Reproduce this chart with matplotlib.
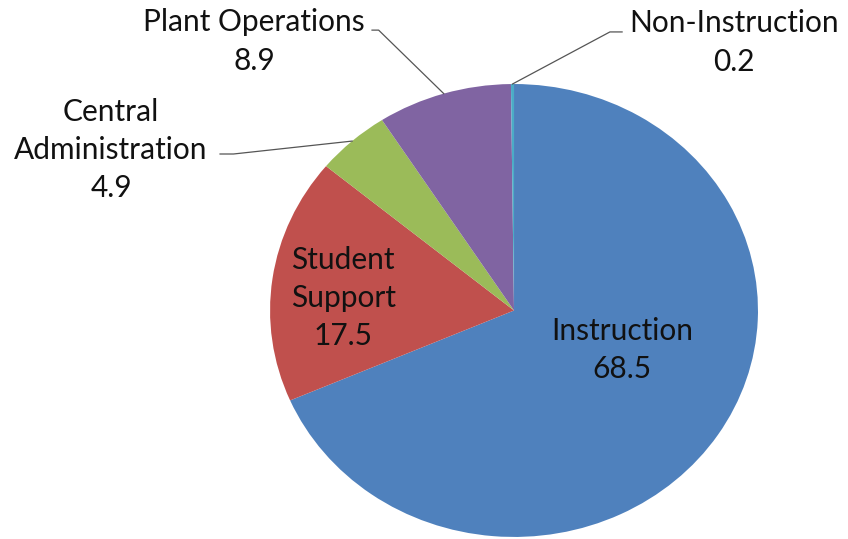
import numpy as np
import matplotlib.pyplot as plt

plt.rcParams['font.family'] = ['Lato', 'DejaVu Sans']

# Spending share by function (percent)
categories = ['Instruction', 'Student\nSupport', 'Central\nAdministration',
              'Plant Operations', 'Non-Instruction']
values = [68.5, 17.5, 4.9, 8.9, 0.2]
colors = ['#4F81BD', '#C0504D', '#9BBB59', '#8064A2', '#4BACC6']

fig = plt.figure(figsize=(8.48, 5.39), dpi=100)
ax = fig.add_axes([0, 0, 1, 1])

wedges, _ = ax.pie(values, colors=colors, startangle=90, counterclock=False,
                   radius=1.0, wedgeprops=dict(linewidth=0))

# slightly stretched ellipse, bottom edge touches the frame
ax.set_aspect('auto')
ax.set_xlim(-2.107, 1.369)
ax.set_ylim(-1.009, 1.371)
ax.axis('off')

fs = 21.5
# (label position, leader line start points or None)
layout = [
    ((0.443, -0.175), None),
    ((-0.70, 0.055), None),
    ((-1.652, 0.709), [(-1.205, 0.691), (-1.150, 0.691)]),
    ((-1.066, 1.188), [(-0.582, 1.238), (-0.555, 1.238)]),
    ((0.90, 1.183), [(0.443, 1.23), (0.393, 1.23)]),
]

for w, cat, val, (pos, leader) in zip(wedges, categories, values, layout):
    ax.text(pos[0], pos[1], f'{cat}\n{val}', ha='center', va='center',
            fontsize=fs, color='#111111', linespacing=1.45)
    if leader:
        mid = np.deg2rad((w.theta1 + w.theta2) / 2)
        edge = (np.cos(mid), np.sin(mid))
        xs = [p[0] for p in leader] + [edge[0]]
        ys = [p[1] for p in leader] + [edge[1]]
        ax.plot(xs, ys, color='#555555', lw=0.9)

fig.savefig('out.png', dpi=100)
